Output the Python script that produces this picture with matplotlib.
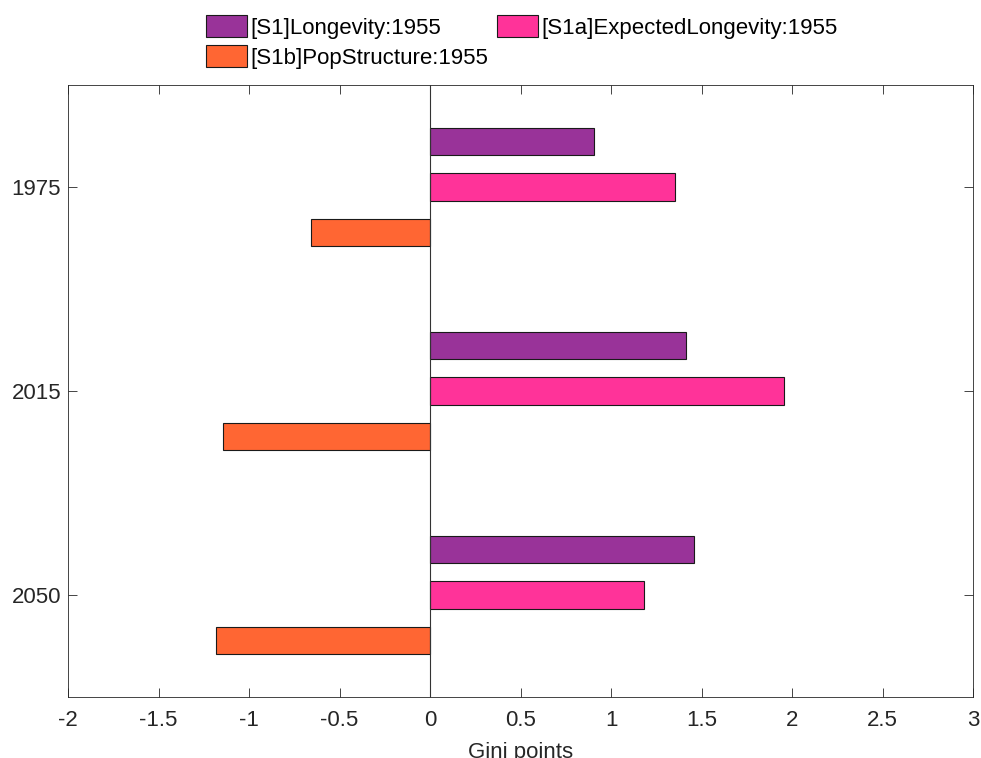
import matplotlib
matplotlib.use("Agg")
import matplotlib.pyplot as plt
import numpy as np

plt.rcParams['font.family'] = ['Liberation Sans', 'DejaVu Sans']
plt.rcParams['axes.unicode_minus'] = False

years = ["1975", "2015", "2050"]
series_names = ["[S1]Longevity:1955",
                "[S1a]ExpectedLongevity:1955",
                "[S1b]PopStructure:1955"]
longevity = [0.908, 1.412, 1.457]
expected_longevity = [1.352, 1.958, 1.180]
pop_structure = [-0.659, -1.145, -1.185]
colors = ["#993399", "#FF3399", "#FF6633"]

x_ticks = [-2, -1.5, -1, -0.5, 0, 0.5, 1, 1.5, 2, 2.5, 3]
x_tick_labels = ["-2", "-1.5", "-1", "-0.5", "0", "0.5", "1", "1.5", "2", "2.5", "3"]

fig = plt.figure(figsize=(9.81, 7.58), dpi=100)
ax = fig.add_axes([68/981, 61/758, 905/981, 612/758])

pos = np.arange(1, len(years) + 1)
offset = 0.2235
height = 0.134
handles = []
for i, (vals, name, c) in enumerate(zip([longevity, expected_longevity, pop_structure],
                                         series_names, colors)):
    h = ax.barh(pos + (i - 1) * offset, vals, height=height, color=c,
                edgecolor="#1a1a1a", linewidth=0.8, label=name, zorder=2)
    handles.append(h)

ax.axvline(0, color="#333333", linewidth=0.8, zorder=3)

ax.set_xlim(-2, 3)
ax.set_ylim(3.5, 0.5)
ax.set_xticks(x_ticks)
ax.set_xticklabels(x_tick_labels)
ax.set_yticks(pos)
ax.set_yticklabels(years)
ax.tick_params(direction="in", length=6.5, width=0.6, color="#262626",
               labelsize=16, top=True, right=True, pad=5, labelcolor="#262626")
ax.tick_params(axis="x", pad=9.5)
for s in ax.spines.values():
    s.set_linewidth(0.6)
    s.set_color("#262626")
ax.set_xlabel("Gini points", fontsize=16, color="#262626", labelpad=8)

# legend filled row by row: S1, S1a on the first row, S1b on the second
order = [0, 2, 1]
fig.legend(handles=[handles[k] for k in order],
           labels=[series_names[k] for k in order],
           ncol=2, frameon=False,
           loc="upper left", bbox_to_anchor=(206/981, 1 - 15/758),
           fontsize=16, handlelength=1.85, handleheight=1.15, handletextpad=0.14,
           columnspacing=0.4, labelspacing=0.3, borderaxespad=0, borderpad=0)

fig.savefig("out.png", dpi=100)
